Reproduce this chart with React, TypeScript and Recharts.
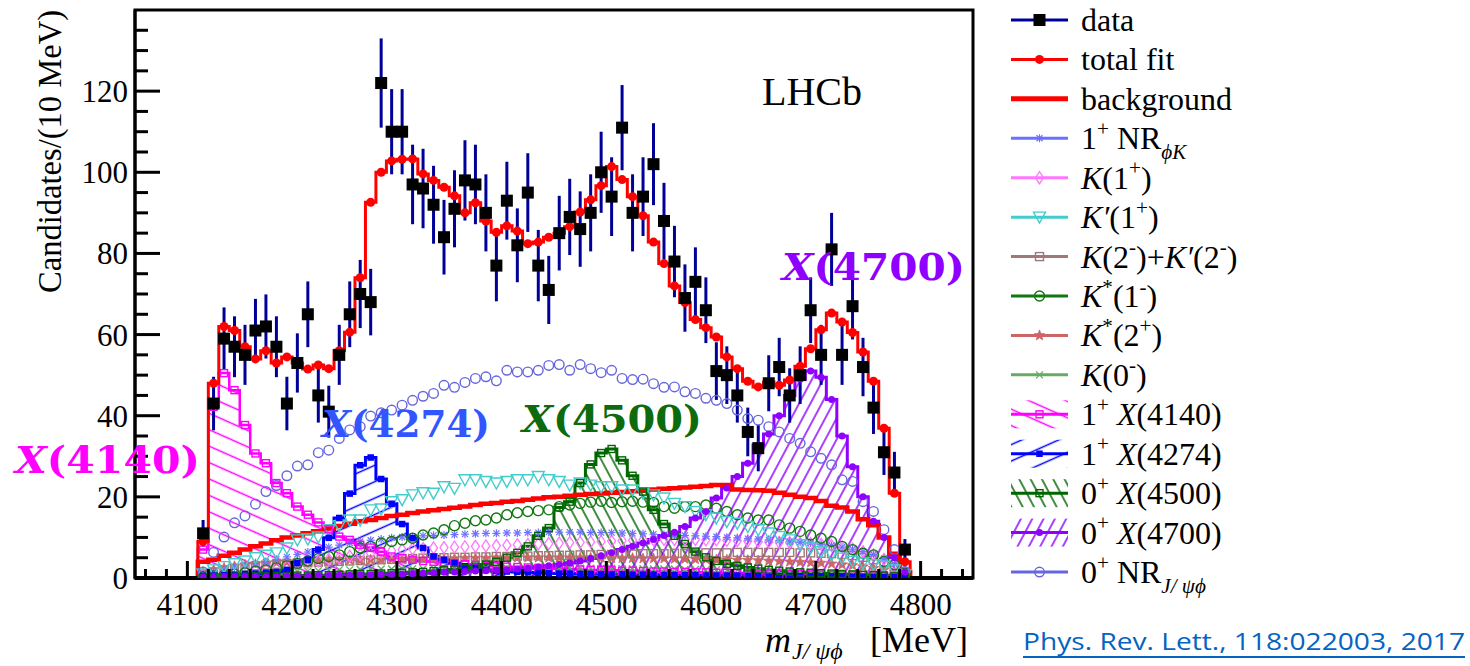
import React from 'react';
import { ComposedChart, Line, Area, Scatter, XAxis, YAxis, ErrorBar, ReferenceArea } from 'recharts';

const SERIF = "'Liberation Serif', 'Times New Roman', serif";
const BOLD_SERIF = "'DejaVu Serif', serif";

// bin centres, 10 MeV bins
const massBins = [
  4115, 4125, 4135, 4145, 4155, 4165, 4175, 4185, 4195, 4205,
  4215, 4225, 4235, 4245, 4255, 4265, 4275, 4285, 4295, 4305,
  4315, 4325, 4335, 4345, 4355, 4365, 4375, 4385, 4395, 4405,
  4415, 4425, 4435, 4445, 4455, 4465, 4475, 4485, 4495, 4505,
  4515, 4525, 4535, 4545, 4555, 4565, 4575, 4585, 4595, 4605,
  4615, 4625, 4635, 4645, 4655, 4665, 4675, 4685, 4695, 4705,
  4715, 4725, 4735, 4745, 4755, 4765, 4775, 4785,
];

const dataCounts = [
  11, 43, 59, 57, 55, 61, 62, 57, 43, 53,
  65, 45, 41, 55, 65, 70, 68, 122, 110, 110,
  97, 96, 92, 84, 91, 98, 97, 90, 77, 93,
  82, 95, 77, 71, 85, 89, 86, 90, 100, 94,
  111, 90, 94, 102, 88, 78, 69, 73, 66, 51,
  50, 45, 36, 32, 48, 52, 45, 50, 66, 55,
  81, 55, 67, 52, 42, 31, 26, 7,
];

const dataErrors = [
  3.3, 6.6, 7.7, 7.5, 7.4, 7.8, 7.9, 7.5, 6.6, 7.3,
  8.1, 6.7, 6.4, 7.4, 8.1, 8.4, 8.2, 11.0, 10.5, 10.5,
  9.8, 9.8, 9.6, 9.2, 9.5, 9.9, 9.8, 9.5, 8.8, 9.6,
  9.1, 9.7, 8.8, 8.4, 9.2, 9.4, 9.3, 9.5, 10.0, 9.7,
  10.5, 9.5, 9.7, 10.1, 9.4, 8.8, 8.3, 8.5, 8.1, 7.1,
  7.1, 6.7, 6.0, 5.7, 6.9, 7.2, 6.7, 7.1, 8.1, 7.4,
  9.0, 7.4, 8.2, 7.2, 6.5, 5.6, 5.1, 2.6,
];

const totalFit = [
  9, 48, 62, 61, 57, 54, 56, 53, 54.5, 53,
  51.5, 52.5, 51.6, 56, 60.6, 74, 92.6, 100, 102.8, 103.2,
  103.3, 99.6, 98, 96.3, 94.2, 90, 92.5, 88, 85.2, 86.8,
  85.5, 82.4, 82.8, 84, 85, 86.6, 90.2, 93.2, 96.7, 101.4,
  98.2, 94, 89.3, 82.8, 77.5, 72, 67.9, 63.7, 61.7, 59.4,
  54.5, 51.6, 48.5, 47.1, 48.3, 47.5, 48.8, 52.2, 56.5, 61.2,
  65.3, 63.1, 60.5, 55.7, 48.5, 36.9, 20.9, 4,
];

const background = [
  4, 4.5, 5.5, 6.2, 7, 7.8, 8.5, 9.3, 10, 10.5,
  11, 11.5, 12.2, 12.8, 13.4, 14, 14.3, 14.8, 15.3, 15.6,
  16, 16.4, 16.7, 17, 17.3, 17.6, 18, 18.3, 18.5, 18.8,
  19, 19.3, 19.6, 19.9, 20, 20.3, 20.5, 20.7, 20.8, 21,
  21.2, 21.4, 21.6, 21.8, 22, 22.1, 22.3, 22.5, 22.7, 22.9,
  22.9, 21.8, 21.7, 21.6, 21.5, 21, 20.5, 20, 19.7, 19,
  17.8, 17.4, 16.4, 14.5, 13, 10, 6, 1.5,
];

const nrPhiK = [
  1, 1.5, 2, 2.5, 3, 3.5, 4, 4.6, 5.2, 5.8,
  6.4, 7, 7.6, 8.1, 8.6, 9, 9.3, 9.6, 9.9, 10.1,
  10.2, 10.4, 10.5, 10.6, 10.7, 10.8, 10.9, 11, 11, 11.1,
  11.1, 11.2, 11.2, 11.3, 11.3, 11.3, 11.3, 11.2, 11.2, 11.2,
  11.1, 11, 10.9, 10.8, 10.7, 10.6, 10.5, 10.4, 10.3, 10.2,
  10, 9.9, 9.7, 9.6, 9.4, 9.2, 9, 8.8, 8.6, 8.3,
  8, 7.6, 7.1, 6.5, 5.8, 4.8, 3.5, 1.8,
];

const k1p = [
  0.5, 0.8, 1.1, 1.4, 1.7, 2, 2.3, 2.6, 3, 3.4,
  3.8, 4.2, 4.6, 5, 5.4, 5.8, 6.1, 6.4, 6.7, 7,
  7.2, 7.3, 7.4, 7.5, 7.6, 7.7, 7.8, 7.9, 8, 8.1,
  8.2, 8.3, 8.4, 8.5, 8.6, 8.7, 8.8, 8.9, 9, 9.1,
  9.2, 9.3, 9.4, 9.4, 9.5, 9.5, 9.5, 9.5, 9.4, 9.4,
  9.3, 9.2, 9.1, 9, 8.9, 8.8, 8.7, 8.6, 8.5, 8.3,
  8, 7.6, 7.1, 6.5, 5.7, 4.6, 3.4, 1.6,
];

const kPrime1p = [
  1, 2, 2.8, 3.5, 4.2, 5, 5.6, 6.2, 7.4, 9.4,
  9.6, 10.1, 11.9, 12.9, 14.3, 14.3, 16.8, 17, 18.8, 19.3,
  20.5, 21, 20.9, 22.5, 22.1, 24.2, 24.2, 23.8, 23.4, 23.8,
  24.2, 24.2, 25, 24.2, 23.8, 22.9, 23.4, 22.9, 22.5, 22.5,
  21.7, 21.7, 20.9, 20.5, 19.7, 18.4, 17.6, 16.4, 15.6, 14.8,
  13.9, 13.5, 12.7, 11.9, 11.1, 10.2, 9.4, 8.2, 7.4, 6.5,
  5.7, 4.9, 4.1, 3.7, 3.3, 2.9, 2, 0.8,
];

const k2m = [
  1, 1.5, 2, 2.4, 2.7, 3, 3.2, 3.4, 3.6, 3.7,
  3.8, 3.9, 4, 4.1, 4.2, 4.3, 4.4, 4.5, 4.6, 4.7,
  4.8, 4.9, 5, 5, 5.1, 5.1, 5.2, 5.2, 5.3, 5.3,
  5.4, 5.4, 5.5, 5.5, 5.6, 5.6, 5.7, 5.7, 5.8, 5.8,
  5.9, 5.9, 6, 6, 6, 6.1, 6.1, 6.1, 6.2, 6.2,
  6.2, 6.3, 6.3, 6.3, 6.3, 6.3, 6.3, 6.2, 6.2, 6.1,
  6, 5.8, 5.5, 5.1, 4.5, 3.7, 2.7, 1.3,
];

const kStar1m = [
  0.3, 0.5, 0.7, 1, 1.3, 1.7, 2, 2.5, 3, 3.6,
  4.2, 4.8, 5.3, 5.7, 6.5, 7.4, 7.8, 8.6, 9, 9.4,
  9.8, 10.6, 11.1, 11.9, 12.9, 13.5, 14.1, 14.3, 14.8, 15.6,
  16.1, 16.4, 16.6, 16.8, 17.6, 18, 18.4, 18.7, 18.9, 18.6,
  18.8, 18.9, 18.7, 18.6, 17.6, 17.2, 17.6, 17.6, 18, 17.2,
  16.4, 15.6, 14.8, 14.3, 14.3, 13.1, 12.3, 11.5, 10.6, 9.8,
  9, 7.8, 7, 6.1, 5.7, 4.1, 3.3, 1.2,
];

const kStar2p = [
  1.5, 2, 2.5, 2.9, 3.2, 3.4, 3.6, 3.8, 3.9, 4,
  4.1, 4.2, 4.3, 4.3, 4.4, 4.4, 4.5, 4.5, 4.6, 4.6,
  4.7, 4.7, 4.8, 4.8, 4.8, 4.9, 4.9, 4.9, 5, 5,
  5, 5, 5, 5, 5, 5, 5, 5, 5, 4.9,
  4.9, 4.9, 4.8, 4.8, 4.8, 4.7, 4.7, 4.6, 4.6, 4.5,
  4.5, 4.4, 4.4, 4.3, 4.2, 4.1, 4, 3.9, 3.8, 3.7,
  3.5, 3.3, 3.1, 2.8, 2.4, 2, 1.5, 0.8,
];

const k0m = [
  0.3, 0.5, 0.7, 0.9, 1, 1.2, 1.3, 1.4, 1.5, 1.6,
  1.7, 1.8, 1.9, 2, 2, 2.1, 2.1, 2.2, 2.2, 2.3,
  2.3, 2.3, 2.4, 2.4, 2.4, 2.4, 2.5, 2.5, 2.5, 2.5,
  2.5, 2.5, 2.5, 2.5, 2.5, 2.5, 2.4, 2.4, 2.4, 2.4,
  2.3, 2.3, 2.3, 2.2, 2.2, 2.2, 2.1, 2.1, 2, 2,
  1.9, 1.9, 1.8, 1.8, 1.7, 1.6, 1.6, 1.5, 1.4, 1.3,
  1.2, 1.1, 1, 0.9, 0.8, 0.6, 0.4, 0.2,
];

const x4140 = [
  7, 42.2, 50.5, 46.3, 37.7, 30.7, 28.3, 23.4, 20.9, 17.6,
  15.6, 13.7, 12, 10.2, 9.4, 8.2, 7.5, 6.5, 5.3, 4.9,
  4.5, 4.2, 4, 3.8, 3.6, 3.4, 3.2, 3, 2.9, 2.8,
  2.7, 2.6, 2.5, 2.4, 2.3, 2.2, 2.1, 2, 2, 1.9,
  1.8, 1.8, 1.7, 1.6, 1.6, 1.5, 1.5, 1.4, 1.4, 1.3,
  1.3, 1.2, 1.2, 1.1, 1.1, 1, 1, 1, 0.9, 0.9,
  0.8, 0.8, 0.7, 0.7, 0.6, 0.5, 0.4, 0.2,
];

const x4274 = [
  0.5, 0.6, 0.7, 0.8, 1, 1.1, 1.3, 1.5, 2, 3.7,
  4.5, 7, 9.9, 14.8, 20.8, 27.8, 29.7, 24.4, 18.3, 13.3,
  9.8, 7.4, 5.3, 4.5, 3.7, 2.9, 2.5, 2, 1.8, 1.6,
  1.5, 1.4, 1.3, 1.2, 1.1, 1.1, 1, 1, 0.9, 0.9,
  0.9, 0.8, 0.8, 0.8, 0.7, 0.7, 0.7, 0.7, 0.6, 0.6,
  0.6, 0.6, 0.5, 0.5, 0.5, 0.5, 0.5, 0.4, 0.4, 0.4,
  0.4, 0.4, 0.3, 0.3, 0.3, 0.3, 0.2, 0.1,
];

const x4500 = [
  0.1, 0.2, 0.2, 0.3, 0.3, 0.4, 0.4, 0.5, 0.5, 0.6,
  0.6, 0.7, 0.7, 0.8, 0.9, 1, 1, 1.1, 1.2, 1.3,
  1.4, 1.5, 1.7, 1.9, 2.1, 2.4, 2.8, 3.3, 4, 5,
  6.2, 7.8, 10.4, 12.3, 17.4, 18.8, 23.4, 28, 30.8, 31.8,
  29, 25.2, 21.3, 16.8, 13.3, 10.4, 8.4, 6.5, 5.1, 4.2,
  3.5, 3, 2.6, 2.3, 2, 1.8, 1.6, 1.4, 1.3, 1.2,
  1.1, 1, 0.9, 0.8, 0.7, 0.6, 0.4, 0.2,
];

const x4700 = [
  0.2, 0.2, 0.3, 0.3, 0.3, 0.4, 0.4, 0.4, 0.5, 0.5,
  0.5, 0.6, 0.6, 0.7, 0.7, 0.8, 0.8, 0.9, 0.9, 1,
  1.1, 1.2, 1.3, 1.4, 1.5, 1.6, 1.7, 1.8, 1.9, 2,
  2.2, 2.4, 2.7, 3, 3.3, 3.7, 4.2, 4.8, 5.5, 6.2,
  7, 7.8, 8.6, 9.5, 10.5, 11.3, 12.7, 14.8, 16.4, 19.7,
  22.2, 25, 28.3, 32.8, 35.5, 40, 45, 49, 51, 49.5,
  44, 35, 27.4, 20, 14, 10, 5, 1.5,
];

const nrJpsiPhi = [
  1.5, 6.3, 10.1, 13.6, 15.3, 18.2, 21.3, 22.8, 25.2, 27.6,
  27.9, 30.9, 31.5, 34.4, 36.5, 37.3, 39.9, 40.7, 41.4, 42.6,
  43.8, 44.8, 45.5, 47.5, 47, 48.2, 49.2, 49.6, 48.6, 51.2,
  50.8, 50.8, 51.2, 52.4, 52.6, 51.2, 52.6, 51.6, 50.6, 51.2,
  49.2, 48.9, 49, 47.9, 47, 47.1, 45.9, 45.5, 44.3, 43.8,
  43, 41.4, 39.3, 38.9, 37.3, 36, 34.4, 33.2, 31.1, 29.5,
  27.9, 24.2, 23.8, 18.8, 16.4, 11.9, 7, 1.6,
];

const xTicks = [
  4060, 4080, 4100, 4120, 4140, 4160, 4180, 4200, 4220, 4240, 4260, 4280, 4300,
  4320, 4340, 4360, 4380, 4400, 4420, 4440, 4460, 4480, 4500, 4520, 4540, 4560,
  4580, 4600, 4620, 4640, 4660, 4680, 4700, 4720, 4740, 4760, 4780, 4800, 4820, 4840,
];
const yTicks = [0, 5, 10, 15, 20, 25, 30, 35, 40, 45, 50, 55, 60, 65, 70, 75, 80, 85, 90, 95, 100, 105, 110, 115, 120, 125, 130, 135];

// histogram rows at bin low edges (stepAfter), closed at both ends
const HALF_BIN = 5;
const zeroRow = { bg: 0, total: 0, h4140: 0, h4274: 0, h4500: 0, h4700: 0 };
const stepRows = [
  { x: massBins[0] - HALF_BIN, ...zeroRow },
  ...massBins.map((m, i) => ({
    x: m - HALF_BIN,
    bg: background[i],
    total: totalFit[i],
    h4140: x4140[i],
    h4274: x4274[i],
    h4500: x4500[i],
    h4700: x4700[i],
  })),
  { x: massBins[massBins.length - 1] + HALF_BIN, ...zeroRow },
];

const centerRows = massBins.map((m, i) => ({
  x: m,
  data: dataCounts[i],
  err: dataErrors[i],
  total: totalFit[i],
  nrPhiK: nrPhiK[i],
  k1p: k1p[i],
  kPrime1p: kPrime1p[i],
  k2m: k2m[i],
  kStar1m: kStar1m[i],
  kStar2p: kStar2p[i],
  k0m: k0m[i],
  h4140: x4140[i],
  h4274: x4274[i],
  h4500: x4500[i],
  h4700: x4700[i],
  nrJpsiPhi: nrJpsiPhi[i],
}));

const C = {
  navy: '#000099',
  red: '#ff0000',
  nrPhiK: '#6f6fff',
  k1p: '#ff77ff',
  kPrime: '#44cccc',
  k2m: '#a07878',
  kStar1m: '#117711',
  kStar2p: '#cc6666',
  k0m: '#66aa66',
  x4140: '#ff00ff',
  x4274: '#0000ff',
  x4500: '#006600',
  x4700: '#8f00ff',
  nrJpsi: '#6666dd',
};

type P = { cx?: number; cy?: number };

const filledSquare = (color: string, s: number) => ({ cx = 0, cy = 0 }: P) => (
  <rect x={cx - s / 2} y={cy - s / 2} width={s} height={s} fill={color} />
);
const openSquare = (color: string, s: number) => ({ cx = 0, cy = 0 }: P) => (
  <rect x={cx - s / 2} y={cy - s / 2} width={s} height={s} fill="none" stroke={color} strokeWidth={1.4} />
);
const filledDot = (color: string, r: number) => ({ cx = 0, cy = 0 }: P) => (
  <circle cx={cx} cy={cy} r={r} fill={color} />
);
const openCircle = (color: string, r: number) => ({ cx = 0, cy = 0 }: P) => (
  <circle cx={cx} cy={cy} r={r} fill="none" stroke={color} strokeWidth={1.4} />
);
const asterisk = (color: string) => ({ cx = 0, cy = 0 }: P) => (
  <g stroke={color} strokeWidth={1.2}>
    <line x1={cx - 4} y1={cy} x2={cx + 4} y2={cy} />
    <line x1={cx} y1={cy - 4} x2={cx} y2={cy + 4} />
    <line x1={cx - 3} y1={cy - 3} x2={cx + 3} y2={cy + 3} />
    <line x1={cx - 3} y1={cy + 3} x2={cx + 3} y2={cy - 3} />
  </g>
);
const diamond = (color: string) => ({ cx = 0, cy = 0 }: P) => (
  <polygon
    points={`${cx},${cy - 6} ${cx + 4},${cy} ${cx},${cy + 6} ${cx - 4},${cy}`}
    fill="none"
    stroke={color}
    strokeWidth={1.3}
  />
);
const triangleDown = (color: string) => ({ cx = 0, cy = 0 }: P) => (
  <polygon
    points={`${cx - 6},${cy - 5} ${cx + 6},${cy - 5} ${cx},${cy + 6}`}
    fill="none"
    stroke={color}
    strokeWidth={1.4}
  />
);
const star = (color: string) => ({ cx = 0, cy = 0 }: P) => {
  const pts: string[] = [];
  for (let k = 0; k < 10; k++) {
    const r = k % 2 === 0 ? 5.5 : 2.3;
    const a = -Math.PI / 2 + (k * Math.PI) / 5;
    pts.push(`${cx + r * Math.cos(a)},${cy + r * Math.sin(a)}`);
  }
  return <polygon points={pts.join(' ')} fill={color} stroke={color} strokeWidth={0.8} />;
};
const cross = (color: string) => ({ cx = 0, cy = 0 }: P) => (
  <g stroke={color} strokeWidth={1.3}>
    <line x1={cx - 3.5} y1={cy - 3.5} x2={cx + 3.5} y2={cy + 3.5} />
    <line x1={cx - 3.5} y1={cy + 3.5} x2={cx + 3.5} y2={cy - 3.5} />
  </g>
);

const shapes = {
  data: filledSquare('#000', 12),
  total: filledDot(C.red, 4.5),
  nrPhiK: asterisk(C.nrPhiK),
  k1p: diamond(C.k1p),
  kPrime1p: triangleDown(C.kPrime),
  k2m: openSquare(C.k2m, 8),
  kStar1m: openCircle(C.kStar1m, 5),
  kStar2p: star(C.kStar2p),
  k0m: cross(C.k0m),
  h4140: openSquare(C.x4140, 7),
  h4274: filledSquare(C.x4274, 6.5),
  h4500: openSquare(C.x4500, 7),
  h4700: filledDot(C.x4700, 3.5),
  nrJpsiPhi: openCircle(C.nrJpsi, 4.8),
};

const XTick = (props: any) => {
  const { x, y, payload } = props;
  const v = payload.value as number;
  const major = v % 100 === 0;
  return (
    <g>
      <line x1={x} x2={x} y1={y} y2={y - (major ? 17 : 9)} stroke="#000" strokeWidth={3} />
      {major && (
        <text x={x} y={y + 37} textAnchor="middle" fontSize={31} fontFamily={SERIF} fill="#000">
          {v}
        </text>
      )}
    </g>
  );
};

const YTick = (props: any) => {
  const { x, y, payload } = props;
  const v = payload.value as number;
  const major = v % 20 === 0;
  return (
    <g>
      <line x1={x} x2={x + (major ? 25 : 13)} y1={y} y2={y} stroke="#000" strokeWidth={3} />
      {major && v <= 120 && (
        <text x={x - 7} y={y + 11} textAnchor="end" fontSize={31} fontFamily={SERIF} fill="#000">
          {v}
        </text>
      )}
    </g>
  );
};

type Seg = { t: string; it?: boolean; sup?: boolean; sub?: boolean };

const Rich = ({ x, y, segs, size }: { x: number; y: number; segs: Seg[]; size: number }) => {
  let shift = 0;
  return (
    <text x={x} y={y} fontSize={size} fontFamily={SERIF} fill="#000">
      {segs.map((s, k) => {
        const target = s.sup ? -0.42 * size : s.sub ? 0.3 * size : 0;
        const dy = target - shift;
        shift = target;
        return (
          <tspan key={k} dy={dy} fontSize={s.sup || s.sub ? size * 0.66 : size} fontStyle={s.it ? 'italic' : 'normal'}>
            {s.t}
          </tspan>
        );
      })}
    </text>
  );
};

type LegendEntry = { segs: Seg[]; color: string; width: number; marker?: (p: P) => React.ReactNode; hatch?: string };

const legendEntries: LegendEntry[] = [
  { segs: [{ t: 'data' }], color: C.navy, width: 3, marker: shapes.data },
  { segs: [{ t: 'total fit' }], color: C.red, width: 3, marker: shapes.total },
  { segs: [{ t: 'background' }], color: C.red, width: 5 },
  { segs: [{ t: '1' }, { t: '+', sup: true }, { t: ' NR' }, { t: 'ϕK', sub: true, it: true }], color: C.nrPhiK, width: 3, marker: shapes.nrPhiK },
  { segs: [{ t: 'K', it: true }, { t: '(1' }, { t: '+', sup: true }, { t: ')' }], color: C.k1p, width: 3, marker: shapes.k1p },
  { segs: [{ t: 'K′', it: true }, { t: '(1' }, { t: '+', sup: true }, { t: ')' }], color: C.kPrime, width: 3, marker: shapes.kPrime1p },
  {
    segs: [{ t: 'K', it: true }, { t: '(2' }, { t: '-', sup: true }, { t: ')+' }, { t: 'K′', it: true }, { t: '(2' }, { t: '-', sup: true }, { t: ')' }],
    color: C.k2m,
    width: 3,
    marker: shapes.k2m,
  },
  { segs: [{ t: 'K', it: true }, { t: '*', sup: true }, { t: '(1' }, { t: '-', sup: true }, { t: ')' }], color: C.kStar1m, width: 3, marker: shapes.kStar1m },
  { segs: [{ t: 'K', it: true }, { t: '*', sup: true }, { t: '(2' }, { t: '+', sup: true }, { t: ')' }], color: C.kStar2p, width: 3, marker: shapes.kStar2p },
  { segs: [{ t: 'K', it: true }, { t: '(0' }, { t: '-', sup: true }, { t: ')' }], color: C.k0m, width: 3, marker: shapes.k0m },
  { segs: [{ t: '1' }, { t: '+', sup: true }, { t: ' ' }, { t: 'X', it: true }, { t: '(4140)' }], color: C.x4140, width: 3, marker: shapes.h4140, hatch: 'hatch4140' },
  { segs: [{ t: '1' }, { t: '+', sup: true }, { t: ' ' }, { t: 'X', it: true }, { t: '(4274)' }], color: C.x4274, width: 3, marker: shapes.h4274, hatch: 'hatch4274' },
  { segs: [{ t: '0' }, { t: '+', sup: true }, { t: ' ' }, { t: 'X', it: true }, { t: '(4500)' }], color: C.x4500, width: 3, marker: shapes.h4500, hatch: 'hatch4500' },
  { segs: [{ t: '0' }, { t: '+', sup: true }, { t: ' ' }, { t: 'X', it: true }, { t: '(4700)' }], color: C.x4700, width: 3, marker: shapes.h4700, hatch: 'hatch4700' },
  { segs: [{ t: '0' }, { t: '+', sup: true }, { t: ' NR' }, { t: 'J/ ψϕ', sub: true, it: true }], color: C.nrJpsi, width: 3, marker: shapes.nrJpsiPhi },
];

const Hatch = ({ id, color, angle, gap }: { id: string; color: string; angle: number; gap: number }) => (
  <pattern id={id} patternUnits="userSpaceOnUse" width={40} height={gap} patternTransform={`rotate(${angle})`}>
    <line x1={0} y1={gap / 2} x2={40} y2={gap / 2} stroke={color} strokeWidth={1.3} />
  </pattern>
);

const Label = ({ x, y, w, color, num }: { x: number; y: number; w: number; color: string; num: string }) => (
  <text x={x} y={y} fill={color} fontFamily={BOLD_SERIF} fontWeight="bold" fontSize={38} textLength={w} lengthAdjust="spacingAndGlyphs">
    <tspan fontStyle="italic">X</tspan>
    <tspan>({num})</tspan>
  </text>
);

export default function App() {
  return (
    <div style={{ position: 'absolute', left: 0, top: 0, width: 1470, height: 666, background: '#fff', overflow: 'hidden' }}>
      <svg width={0} height={0} style={{ position: 'absolute' }}>
        <defs>
          <Hatch id="hatch4140" color={C.x4140} angle={24} gap={15} />
          <Hatch id="hatch4274" color={C.x4274} angle={-24} gap={15} />
          <Hatch id="hatch4500" color={C.x4500} angle={62} gap={10} />
          <Hatch id="hatch4700" color={C.x4700} angle={-62} gap={10} />
        </defs>
      </svg>
      <div style={{ position: 'absolute', left: 0, top: 0 }}>
        <ComposedChart width={1000} height={666} data={stepRows} margin={{ top: 10, right: 27, bottom: 0, left: 0 }}>
          <XAxis
            dataKey="x"
            type="number"
            domain={[4050, 4850]}
            allowDataOverflow
            ticks={xTicks}
            interval={0}
            tick={<XTick />}
            tickLine={false}
            tickSize={0}
            tickMargin={0}
            height={88}
            axisLine={{ stroke: '#000', strokeWidth: 4 }}
          />
          <YAxis
            type="number"
            domain={[0, 140]}
            allowDataOverflow
            ticks={yTicks}
            interval={0}
            tick={<YTick />}
            tickLine={false}
            tickSize={0}
            tickMargin={0}
            width={135}
            axisLine={{ stroke: '#000', strokeWidth: 3 }}
          />
          <ReferenceArea x1={4050} x2={4850} y1={0} y2={140} fill="none" stroke="#000" strokeWidth={3} />

          <Area type="stepAfter" dataKey="h4140" stroke={C.x4140} strokeWidth={2.5} fill="url(#hatch4140)" fillOpacity={1} dot={false} activeDot={false} isAnimationActive={false} />
          <Area type="stepAfter" dataKey="h4274" stroke={C.x4274} strokeWidth={3} fill="url(#hatch4274)" fillOpacity={1} dot={false} activeDot={false} isAnimationActive={false} />
          <Area type="stepAfter" dataKey="h4500" stroke={C.x4500} strokeWidth={3} fill="url(#hatch4500)" fillOpacity={1} dot={false} activeDot={false} isAnimationActive={false} />
          <Area type="stepAfter" dataKey="h4700" stroke={C.x4700} strokeWidth={3} fill="url(#hatch4700)" fillOpacity={1} dot={false} activeDot={false} isAnimationActive={false} />

          <Scatter data={centerRows} dataKey="k0m" shape={shapes.k0m} isAnimationActive={false} />
          <Scatter data={centerRows} dataKey="kStar2p" shape={shapes.kStar2p} isAnimationActive={false} />
          <Scatter data={centerRows} dataKey="k2m" shape={shapes.k2m} isAnimationActive={false} />
          <Scatter data={centerRows} dataKey="k1p" shape={shapes.k1p} isAnimationActive={false} />
          <Scatter data={centerRows} dataKey="nrPhiK" shape={shapes.nrPhiK} isAnimationActive={false} />
          <Scatter data={centerRows} dataKey="kStar1m" shape={shapes.kStar1m} isAnimationActive={false} />
          <Scatter data={centerRows} dataKey="kPrime1p" shape={shapes.kPrime1p} isAnimationActive={false} />
          <Scatter data={centerRows} dataKey="nrJpsiPhi" shape={shapes.nrJpsiPhi} isAnimationActive={false} />

          <Scatter data={centerRows} dataKey="h4140" shape={shapes.h4140} isAnimationActive={false} />
          <Scatter data={centerRows} dataKey="h4274" shape={shapes.h4274} isAnimationActive={false} />
          <Scatter data={centerRows} dataKey="h4500" shape={shapes.h4500} isAnimationActive={false} />
          <Scatter data={centerRows} dataKey="h4700" shape={shapes.h4700} isAnimationActive={false} />

          <Line type="stepAfter" dataKey="bg" stroke={C.red} strokeWidth={4.5} dot={false} activeDot={false} isAnimationActive={false} />
          <Line type="stepAfter" dataKey="total" stroke={C.red} strokeWidth={3} dot={false} activeDot={false} isAnimationActive={false} />
          <Scatter data={centerRows} dataKey="total" shape={shapes.total} isAnimationActive={false} />

          <Scatter data={centerRows} dataKey="data" shape={shapes.data} isAnimationActive={false}>
            <ErrorBar dataKey="err" direction="y" width={0} stroke={C.navy} strokeWidth={3} />
          </Scatter>
        </ComposedChart>
      </div>

      <svg width={1470} height={666} style={{ position: 'absolute', left: 0, top: 0, pointerEvents: 'none' }}>
        <text transform="translate(61,10) rotate(-90)" textAnchor="end" fontSize={33} fontFamily={SERIF} fill="#000" textLength={283} lengthAdjust="spacingAndGlyphs">
          Candidates/(10 MeV)
        </text>
        <text y={652} fontFamily={SERIF} fill="#000">
          <tspan x={765} fontStyle="italic" fontSize={36}>m</tspan>
          <tspan x={792} dy={7} fontStyle="italic" fontSize={24}>J/ ψϕ</tspan>
          <tspan x={870} dy={-7} fontSize={36}>[MeV]</tspan>
        </text>
        <text x={762} y={105} fontSize={40} fontFamily={SERIF} fill="#000" textLength={100} lengthAdjust="spacingAndGlyphs">
          LHCb
        </text>

        <Label x={15} y={473} w={185} color="#ff00ff" num="4140" />
        <Label x={322} y={437} w={168} color="#3355ff" num="4274" />
        <Label x={522} y={432} w={180} color="#0d6b0d" num="4500" />
        <Label x={782} y={280} w={183} color="#8f00ff" num="4700" />

        {legendEntries.map((e, i) => {
          const cy = 20 + 39.43 * i;
          return (
            <g key={i}>
              {e.hatch && <rect x={1011} y={cy - 14} width={57} height={28} fill={`url(#${e.hatch})`} />}
              <line x1={1011} x2={1068} y1={cy} y2={cy} stroke={e.color} strokeWidth={e.width} />
              {e.marker && e.marker({ cx: 1039.5, cy })}
              <Rich x={1081} y={cy + 11} segs={e.segs} size={32} />
            </g>
          );
        })}

        <text x={1023} y={650} fontSize={24} fontFamily="'Open Sans', 'Noto Sans', sans-serif" fill="#0563c1" textLength={442} lengthAdjust="spacingAndGlyphs">
          Phys. Rev. Lett., 118:022003, 2017
        </text>
        <line x1={1023} x2={1465} y1={657} y2={657} stroke="#0563c1" strokeWidth={2} />
      </svg>
    </div>
  );
}
